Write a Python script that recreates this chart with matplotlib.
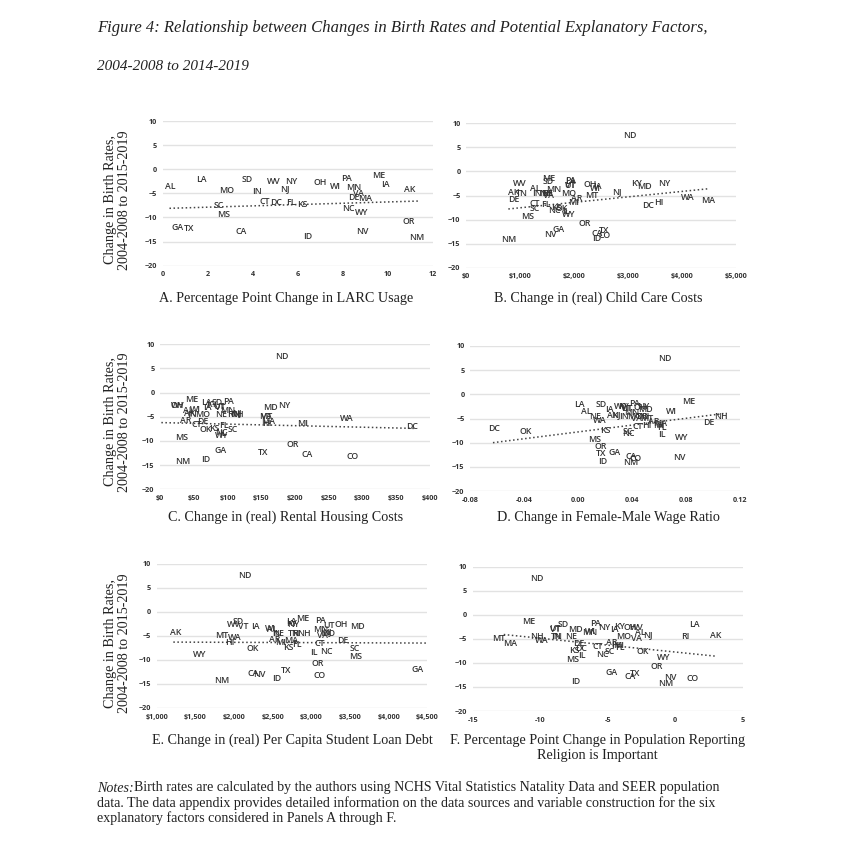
import matplotlib
matplotlib.use("Agg")
import matplotlib.pyplot as plt

W, H = 850, 844
SERIF = "Liberation Serif"
TICKFONT = "Open Sans"

states = ["AK", "AL", "AR", "CA", "CO", "CT", "DC", "DE", "FL", "GA",
          "HI", "IA", "ID", "IL", "IN", "KS", "KY", "LA", "MA", "MD",
          "ME", "MI", "MN", "MO", "MS", "MT", "NC", "ND", "NE", "NH",
          "NJ", "NM", "NV", "NY", "OH", "OK", "OR", "PA", "RI", "SC",
          "SD", "TN", "TX", "UT", "VA", "VT", "WA", "WI", "WV", "WY"]

birth_change = [-4.3, -3.6, -5.7, -12.9, -13.3, -6.6, -7.0, -5.9, -6.8, -12.0,
                -6.4, -3.1, -13.9, -8.4, -4.6, -7.4, -2.5, -2.1, -6.0, -3.1,
                -1.4, -6.4, -3.7, -4.5, -9.3, -4.9, -8.2, 7.5, -4.6, -4.5,
                -4.1, -14.2, -13.0, -2.6, -2.7, -7.7, -10.8, -1.9, -4.5, -7.6,
                -2.1, -4.6, -12.3, -2.9, -5.0, -3.0, -5.4, -3.5, -2.6, -8.9]

# x values line up with states, None = label not visible in that panel
larc_x = [10.96, 0.34, None, 3.46, None, 4.54, 5.04, 8.48, 5.7, 0.64,
          None, 9.89, 6.43, None, 4.17, 6.22, None, 1.73, 9.0, None,
          9.58, None, 8.5, 2.84, 2.69, None, 8.25, None, None, None,
          5.42, 11.28, 8.87, 5.72, 7.0, None, 10.92, 8.16, None, 2.47,
          3.75, None, 1.15, None, 8.67, None, None, 7.65, 4.94, 8.82]

childcare_x = [889, 1278, 2049, 2432, 2574, 1265, 3377, 877, 1481, 1722,
               3568, 2432, 2420, 1850, 1321, 1680, 3160, 1930, 4488, 3303,
               1525, 1990, 1620, 1895, 1148, 2321, 1640, 3025, 1500, 1480,
               2803, 796, 1555, 3667, 2296, 1780, 2197, 1926, 1490, 1278,
               1525, 1043, 2555, 1925, 1530, 1925, 4100, 2390, 1000, 1895]

rent_x = [44, 42, 38, 218, 285, 54, 374, 63, 94, 90,
          158, 70, 68, 93, 47, 80, 77, 69, 160, 163,
          47, 212, 100, 63, 32, 157, 91, 180, 91, 114,
          114, 33, None, 184, 25, 67, 197, 101, 105, 108,
          84, 113, 153, 88, 158, 89, 277, 52, 27, 91]

wage_x = [0.026, 0.006, 0.056, 0.039, 0.043, 0.044, -0.062, 0.097, 0.062, 0.027,
          0.051, 0.023, 0.018, 0.062, 0.034, 0.020, 0.034, 0.001, 0.061, 0.050,
          0.082, 0.060, 0.040, 0.042, 0.012, 0.051, 0.037, 0.064, 0.0126, 0.106,
          0.028, 0.039, 0.075, 0.048, 0.046, -0.039, 0.017, 0.042, 0.050, 0.037,
          0.017, 0.047, 0.017, 0.036, 0.043, 0.036, 0.0163, 0.069, 0.032, 0.077]

loan_x = [1246, 2490, 2530, 2250, 3112, 3112, None, 3405, 2819, 4371,
          1948, 2280, 2552, 3034, 2560, 2698, 2740, 2737, 2733, 3595,
          2888, 2600, 3127, 3207, 3573, 1845, 3198, 2138, 2573, 2900,
          3198, 1845, 2328, 2770, 3392, 2241, 3082, 3121, 2800, 3565,
          2047, 2776, 2668, 3233, 3147, 2125, 2013, 2470, 2000, 1560]

religion_x = [3.02, -2.6, -4.7, -3.35, 1.27, -5.74, -6.98, -7.15, -4.09, -4.7,
              -4.38, -4.53, -7.4, -6.93, -8.83, -7.5, -4.09, 1.42, -12.23, -7.42,
              -10.83, -4.2, -6.36, -3.84, -7.57, -13.1, -5.4, -10.28, -7.74, -10.26,
              -1.99, -0.7, -0.36, -5.25, -3.35, -2.4, -1.35, -5.89, 0.73, -4.88,
              -8.28, -8.8, -2.97, -8.9, -2.85, -8.85, -9.89, -6.26, -2.85, -0.88]

# trend line ends
larc_trend = ([0.3, 11.33], [-8.1, -6.6])
childcare_trend = ([784, 4488], [-7.8, -3.6])
rent_trend = ([2, 377], [-6.2, -7.4])
wage_trend = ([-0.063, 0.110], [-10.0, -3.9])
loan_trend = ([1215, 4490], [-6.3, -6.5])
religion_trend = ([-12.7, 3.0], [-4.1, -8.6])

y_ticks = [10, 5, 0, -5, -10, -15, -20]

larc_ticks = [0, 2, 4, 6, 8, 10, 12]
childcare_ticks = [0, 1000, 2000, 3000, 4000, 5000]
rent_ticks = [0, 50, 100, 150, 200, 250, 300, 350, 400]
wage_ticks = [-0.08, -0.04, 0.00, 0.04, 0.08, 0.12]
loan_ticks = [1000, 1500, 2000, 2500, 3000, 3500, 4000, 4500]
religion_ticks = [-15, -10, -5, 0, 5]

larc_labels = ["0", "2", "4", "6", "8", "10", "12"]
childcare_labels = ["$0", "$1,000", "$2,000", "$3,000", "$4,000", "$5,000"]
rent_labels = ["$0", "$50", "$100", "$150", "$200", "$250", "$300", "$350", "$400"]
wage_labels = ["-0.08", "-0.04", "0.00", "0.04", "0.08", "0.12"]
loan_labels = ["$1,000", "$1,500", "$2,000", "$2,500", "$3,000", "$3,500", "$4,000", "$4,500"]
religion_labels = ["-15", "-10", "-5", "0", "5"]

fig = plt.figure(figsize=(W / 100, H / 100), dpi=100)
fig.patch.set_facecolor("white")


def fx(px):
    return px / W


def fy(px):
    return 1 - px / H


def panel(box, xs, ticks, labels, trend):
    x0, x1, y0, y1 = box
    ax = fig.add_axes([fx(x0), fy(y1), (x1 - x0) / W, (y1 - y0) / H])
    ax.set_xlim(ticks[0], ticks[-1])
    ax.set_ylim(-20, 10)
    ax.set_yticks(y_ticks)
    ax.set_xticks(ticks)
    ax.set_xticklabels(labels)
    ax.grid(axis="y", color="#e2e2e2", lw=1.0)
    ax.set_axisbelow(True)
    for s in ax.spines.values():
        s.set_visible(False)
    ax.tick_params(length=0, labelsize=5.2, labelcolor="#333333", pad=4)
    for t in ax.get_xticklabels() + ax.get_yticklabels():
        t.set_fontfamily(TICKFONT)
        t.set_fontweight("bold")
    ax.plot(trend[0], trend[1], ls=":", color="#444444", lw=1.1)
    for st, x, y in zip(states, xs, birth_change):
        if x is not None:
            ax.text(x, y, st, ha="center", va="center", fontsize=6.3,
                    family=TICKFONT, fontweight="semibold", color="#333333")
    return ax


panel((162.7, 433, 121, 265.7), larc_x, larc_ticks, larc_labels, larc_trend)
panel((466, 736, 123.3, 267.7), childcare_x, childcare_ticks, childcare_labels, childcare_trend)
panel((160, 430, 344.3, 489.3), rent_x, rent_ticks, rent_labels, rent_trend)
panel((470, 740, 346, 491), wage_x, wage_ticks, wage_labels, wage_trend)
panel((156.7, 427.3, 563.7, 708), loan_x, loan_ticks, loan_labels, loan_trend)
panel((472.7, 742.7, 566.7, 711), religion_x, religion_ticks, religion_labels, religion_trend)


def txt(px, py, s, size=10.2, ha="center", style="normal", rot=0, spacing=1.05):
    return fig.text(fx(px), fy(py), s, ha=ha, va="center", fontsize=size,
                    family=SERIF, style=style, rotation=rot, color="#222222",
                    linespacing=spacing)


txt(97, 28, "Figure 4: Relationship between Changes in Birth Rates and Potential Explanatory Factors,",
    size=12.0, ha="left", style="italic")
txt(97, 66, "2004-2008 to 2014-2019", size=11.0, ha="left", style="italic")

for yc in [200, 422, 643]:
    txt(117.5, yc, "Change in Birth Rates,\n2004-2008 to 2015-2019", size=10.2, rot=90, spacing=1.2)

txt(286.5, 298.5, "A. Percentage Point Change in LARC Usage")
txt(598, 298.5, "B. Change in (real) Child Care Costs")
txt(286, 517, "C. Change in (real) Rental Housing Costs")
txt(608, 517, "D. Change in Female-Male Wage Ratio")
txt(292, 740.5, "E. Change in (real) Per Capita Student Loan Debt")
txt(597.5, 740.5, "F. Percentage Point Change in Population Reporting")
txt(597.5, 756, "Religion is Important")

txt(97, 788, "Notes:", size=10.1, ha="left", style="italic")
txt(134, 788, "Birth rates are calculated by the authors using NCHS Vital Statistics Natality Data and SEER population",
    size=10.1, ha="left")
txt(97, 803, "data. The data appendix provides detailed information on the data sources and variable construction for the six",
    size=10.1, ha="left")
txt(97, 818, "explanatory factors considered in Panels A through F.", size=10.1, ha="left")

fig.savefig("out.png", dpi=100)
